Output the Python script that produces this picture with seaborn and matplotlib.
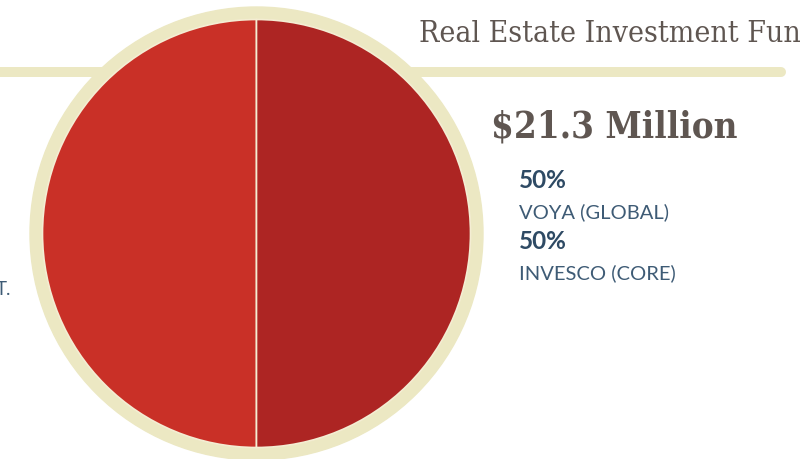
import matplotlib
matplotlib.use("Agg")
import matplotlib.pyplot as plt
import seaborn as sns
from matplotlib.patches import Circle

# data
funds = ["VOYA (GLOBAL)", "INVESCO (CORE)"]
shares = [50, 50]
total_label = "$21.3 Million"
title = "Real Estate Investment Fund"
side_note = "T."

slice_colors = ["#C93027", "#AD2523"]
ring_color = "#ECE8C3"
sep_color = "#F4EDD3"
brown = "#5F5651"
navy = "#2E4A64"
navy_light = "#3E5B75"

sns.set_theme(style="white")

fig = plt.figure(figsize=(8.01, 4.6), dpi=100)
ax = fig.add_axes([0, 0, 1, 1])

cx, cy = 256.5, 234.5

# rule line behind the pie
ax.plot([0, 781], [73, 73], color=ring_color, lw=7.2,
        solid_capstyle="round", zorder=1)
ax.add_patch(Circle((cx, cy), 226.5, color=ring_color, zorder=2))

ax.pie(shares, colors=slice_colors, startangle=90, center=(cx, cy),
       radius=214, frame=True,
       wedgeprops=dict(edgecolor=sep_color, linewidth=1.2, zorder=3))

ax.set_xlim(0, 801)
ax.set_ylim(460, 0)
ax.axis("off")

# title runs off the right edge, as in the source
ax.text(419, 42, title, family="DejaVu Serif", fontstretch="condensed",
        fontsize=21.6, color=brown, va="baseline", ha="left")
ax.text(491, 138, total_label, family="DejaVu Serif", fontstretch="condensed",
        fontweight="bold", fontsize=26.3, color=brown, va="baseline", ha="left")

y = 188
for fund, share in zip(funds, shares):
    ax.text(519, y, f"{share}%", family="Lato", fontweight="bold",
            fontsize=17.5, color=navy, va="baseline")
    ax.text(519, y + 30.5, fund, family="Lato", fontsize=14.5,
            color=navy_light, va="baseline")
    y += 61

ax.text(11, 295, side_note, family="Lato", fontsize=13.5,
        color=navy_light, va="baseline", ha="right")

fig.savefig("out.png", dpi=100)
